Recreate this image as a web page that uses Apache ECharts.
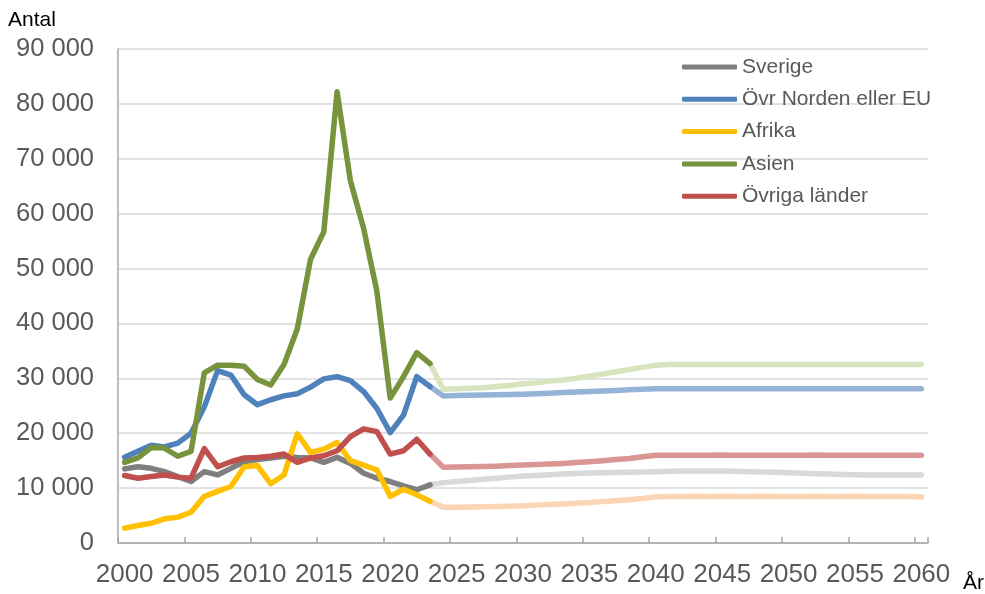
<!DOCTYPE html>
<html>
<head>
<meta charset="utf-8">
<script src="https://cdn.jsdelivr.net/npm/echarts@6/dist/echarts.min.js"></script>
<style>
  html, body { margin: 0; padding: 0; background: #fff; }
  #chart { width: 985px; height: 594px; }
</style>
</head>
<body>
<div id="chart"></div>
<script>
// Years on the category axis, 2000-2060
const years = [];
for (let y = 2000; y <= 2060; y++) years.push(String(y));

const seriesNames = ['Sverige', 'Övr Norden eller EU', 'Afrika', 'Asien', 'Övriga länder'];

// Outcome 2000-2023
const sverigeHist = [13500, 13900, 13600, 13000, 12100, 11200, 13000, 12400, 13600, 14800, 15200, 15500,
    15800, 15600, 15500, 14700, 15600, 14500, 12700, 11800, 11200, 10400, 9700, 10600];
const nordenHist = [15600, 16700, 17800, 17500, 18200, 20000, 24800, 31400, 30600, 27000, 25200, 26100,
    26800, 27200, 28400, 29900, 30300, 29600, 27600, 24500, 20100, 23300, 30300, 28500];
const afrikaHist = [2700, 3200, 3600, 4400, 4700, 5600, 8500, 9400, 10300, 13900, 14100, 10800,
    12400, 19900, 16500, 17100, 18300, 15000, 14200, 13300, 8500, 9800, 8800, 7600];
const asienHist = [14700, 15500, 17400, 17300, 15800, 16700, 31000, 32400, 32400, 32200, 29800, 28800,
    32500, 39000, 51700, 56700, 82200, 66000, 57300, 45800, 26400, 30300, 34700, 32700];
const ovrigaHist = [12300, 11800, 12100, 12400, 12000, 11800, 17200, 13900, 14800, 15500, 15600, 15800,
    16200, 14700, 15500, 15900, 16800, 19400, 20800, 20300, 16200, 16800, 18900, 16200];

// Projection 2023-2060
const sverigeProj = [10600, 11000, 11200, 11400, 11600, 11800, 12000, 12200, 12300, 12450, 12550, 12650,
    12750, 12800, 12850, 12900, 12950, 13000, 13050, 13100, 13100, 13100, 13100, 13050, 13000, 12950,
    12900, 12800, 12700, 12600, 12550, 12500, 12450, 12400, 12400, 12400, 12400, 12400];
const nordenProj = [28500, 26800, 26850, 26900, 26950, 27000, 27050, 27100, 27200, 27300, 27400, 27500,
    27600, 27700, 27800, 27900, 28000, 28100, 28100, 28100, 28100, 28100, 28100, 28100, 28100, 28100,
    28100, 28100, 28100, 28100, 28100, 28100, 28100, 28100, 28100, 28100, 28100, 28100];
const afrikaProj = [7600, 6500, 6500, 6550, 6600, 6650, 6700, 6800, 6900, 7000, 7100, 7250,
    7400, 7550, 7700, 7900, 8100, 8400, 8450, 8450, 8500, 8450, 8500, 8450, 8450, 8500,
    8450, 8450, 8450, 8500, 8450, 8450, 8500, 8450, 8450, 8450, 8450, 8400];
const asienProj = [32700, 28000, 28100, 28200, 28300, 28500, 28700, 29000, 29200, 29500, 29700, 30000,
    30400, 30800, 31200, 31600, 32000, 32400, 32500, 32500, 32500, 32500, 32500, 32500, 32500, 32500,
    32500, 32500, 32500, 32500, 32500, 32500, 32500, 32500, 32500, 32500, 32500, 32500];
const ovrigaProj = [16200, 13800, 13850, 13900, 13950, 14000, 14100, 14200, 14300, 14400, 14500, 14650,
    14800, 15000, 15200, 15400, 15700, 16000, 16000, 16000, 16000, 16000, 16050, 16000, 16000, 16000,
    16000, 16000, 16000, 16050, 16000, 16000, 16000, 16000, 16000, 16000, 16000, 16000];

const darkColors = ['#7f7f7f', '#4f81bd', '#ffc000', '#77933c', '#c0504d'];
const lightColors = ['#d9d9d9', '#95b3d7', '#fcd5b5', '#d7e4bd', '#d99694'];

const hist = [sverigeHist, nordenHist, afrikaHist, asienHist, ovrigaHist];
const proj = [sverigeProj, nordenProj, afrikaProj, asienProj, ovrigaProj];

const projStart = years.indexOf('2023');

function padHist(arr) {
    const out = arr.slice();
    while (out.length < years.length) out.push(null);
    return out;
}
function padProj(arr) {
    const out = [];
    for (let i = 0; i < projStart; i++) out.push(null);
    return out.concat(arr);
}

const font = '"Liberation Sans", Arial, sans-serif';

const series = [];
seriesNames.forEach((name, i) => {
    series.push({
        name: name + ' prognos',
        type: 'line',
        data: padProj(proj[i]),
        showSymbol: false,
        lineStyle: { width: 5.5, color: lightColors[i], cap: 'round', join: 'round' },
        itemStyle: { color: lightColors[i] },
        z: 2
    });
});
seriesNames.forEach((name, i) => {
    series.push({
        name: name,
        type: 'line',
        data: padHist(hist[i]),
        showSymbol: false,
        lineStyle: { width: 5.5, color: darkColors[i], cap: 'round', join: 'round' },
        itemStyle: { color: darkColors[i] },
        z: 3
    });
});

const chart = echarts.init(document.getElementById('chart'));
chart.setOption({
    animation: false,
    grid: { left: 118, right: 57, top: 49, bottom: 51 },
    legend: {
        data: seriesNames,
        orient: 'vertical',
        left: 677,
        top: 51,
        icon: 'roundRect',
        itemWidth: 55,
        itemHeight: 5,
        itemGap: 10.3,
        textStyle: { fontFamily: font, fontSize: 21, color: '#595959', lineHeight: 22 }
    },
    xAxis: {
        type: 'category',
        data: years,
        boundaryGap: true,
        axisLine: { lineStyle: { color: '#a6a6a6', width: 1.5 } },
        axisTick: { show: true, inside: true, length: 6, interval: 4, lineStyle: { color: '#a6a6a6', width: 1.5 } },
        axisLabel: { interval: 4, margin: 19, fontFamily: font, fontSize: 26, color: '#595959' },
        splitLine: { show: false }
    },
    yAxis: {
        type: 'value',
        min: 0,
        max: 90000,
        interval: 10000,
        axisLine: { show: true, lineStyle: { color: '#a6a6a6', width: 1.5 } },
        axisTick: { show: false },
        axisLabel: {
            margin: 24,
            fontFamily: font,
            fontSize: 25.5,
            color: '#595959',
            formatter: v => String(v).replace(/\B(?=(\d{3})+(?!\d))/g, ' ')
        },
        splitLine: { lineStyle: { color: '#d9d9d9', width: 1.5 } }
    },
    graphic: [
        { type: 'text', left: 8, top: 10, style: { text: 'Antal', fontFamily: font, fontSize: 21, fill: '#000' } },
        { type: 'text', left: 963, top: 573, style: { text: 'År', fontFamily: font, fontSize: 21, fill: '#000' } }
    ],
    series: series
});
</script>
</body>
</html>
